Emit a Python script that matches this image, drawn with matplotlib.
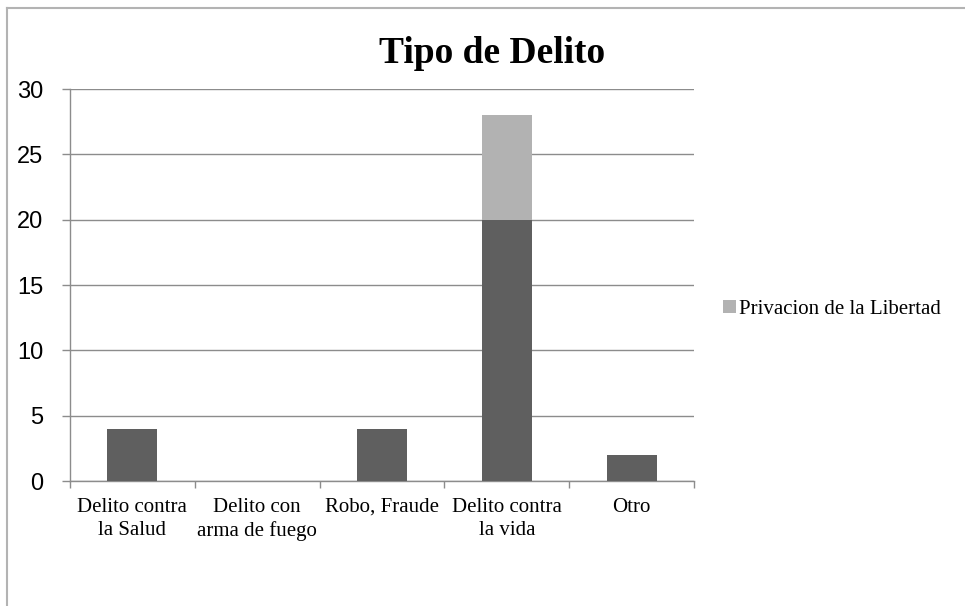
import matplotlib
matplotlib.use("Agg")
import matplotlib.pyplot as plt
from matplotlib.lines import Line2D
import numpy as np

# data
categorias = ["Delito contra\nla Salud", "Delito con\narma de fuego", "Robo, Fraude",
              "Delito contra\nla vida", "Otro"]
serie1 = [4, 0, 4, 20, 2]
privacion = [0, 0, 0, 8, 0]
yticks = [0, 5, 10, 15, 20, 25, 30]

W, H = 965, 606
fig = plt.figure(figsize=(W / 100, H / 100), dpi=100)
ax = fig.add_axes([70 / W, 1 - 481 / H, (694 - 70) / W, (481 - 89) / H])

grid_col = "#8c8c8c"
x = np.arange(len(categorias))
ax.bar(x, serie1, width=0.4, color="#5f5f5f", zorder=3)
b2 = ax.bar(x, privacion, width=0.4, bottom=serie1, color="#b2b2b2", zorder=3,
            label="Privacion de la Libertad")

ax.set_xlim(-0.5, len(categorias) - 0.5)
ax.set_ylim(0, 30)
ax.set_yticks(yticks)
ax.set_yticklabels([str(v) for v in yticks], fontfamily="Liberation Sans", fontsize=17)
ax.yaxis.grid(True, color=grid_col, linewidth=1.0, zorder=0)
ax.tick_params(axis="y", length=6, color=grid_col, width=1.0, pad=13)

ax.set_xticks(x)
ax.set_xticklabels(categorias, fontfamily="Liberation Serif", fontsize=15, linespacing=1.32)
ax.set_xticks(np.arange(-0.5, len(categorias)), minor=True)
ax.tick_params(axis="x", which="major", length=0, pad=12)
ax.tick_params(axis="x", which="minor", length=5, color=grid_col, width=1.0)

for s in ["top", "right"]:
    ax.spines[s].set_visible(False)
for s in ["left", "bottom"]:
    ax.spines[s].set_color(grid_col)
    ax.spines[s].set_linewidth(1.0)

fig.text(492 / W, 1 - 63 / H, "Tipo de Delito", fontfamily="Liberation Serif",
         fontweight="bold", fontsize=27, ha="center", va="baseline")

fig.legend(handles=[b2], loc="center left", bbox_to_anchor=(713 / W, 1 - 309 / H),
           frameon=False, prop={"family": "Liberation Serif", "size": 15},
           handlelength=0.6, handleheight=0.6, handletextpad=0.15, borderpad=0)

# outer chart border (only left and top visible in the crop)
fig.add_artist(Line2D([7 / W, 7 / W], [0, 1 - 8 / H], transform=fig.transFigure,
                      color="#b3b3b3", linewidth=1.5))
fig.add_artist(Line2D([7 / W, 1], [1 - 8 / H, 1 - 8 / H], transform=fig.transFigure,
                      color="#b3b3b3", linewidth=1.5))

fig.savefig("out.png", dpi=100)
